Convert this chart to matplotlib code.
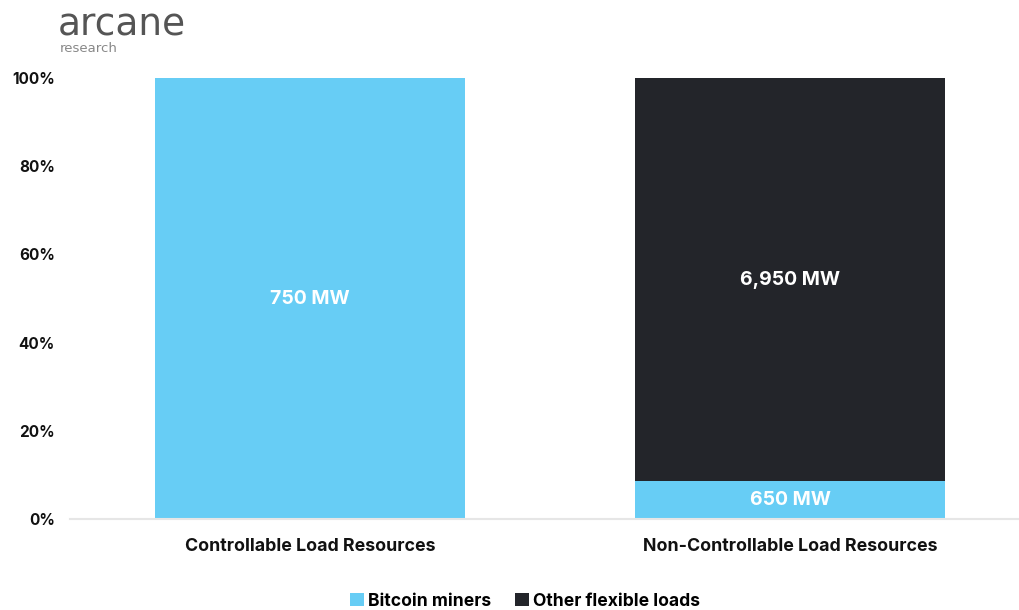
import matplotlib
matplotlib.use("Agg")
import matplotlib.pyplot as plt
import numpy as np
from matplotlib.patches import Patch

categories = ["Controllable Load Resources", "Non-Controllable Load Resources"]
bitcoin_mw = [750, 650]
other_mw = [0, 6950]
series_names = ["Bitcoin miners", "Other flexible loads"]
ytick_labels = ["0%", "20%", "40%", "60%", "80%", "100%"]

BLUE = "#67CDF5"
DARK = "#23252A"
FONT = ["Inter", "DejaVu Sans"]

plt.rcParams["font.family"] = FONT

fig = plt.figure(figsize=(10.19, 6.10), dpi=100)
ax = fig.add_axes([70/1019, 1-519/610, 949/1019, (519-78)/610])

x = np.arange(len(categories))
totals = np.array(bitcoin_mw) + np.array(other_mw)
btc_pct = np.array(bitcoin_mw) / totals * 100
oth_pct = np.array(other_mw) / totals * 100

width = 0.646
ax.bar(x, btc_pct, width, color=BLUE, linewidth=0)
ax.bar(x, oth_pct, width, bottom=btc_pct, color=DARK, linewidth=0)

for i in range(len(categories)):
    if bitcoin_mw[i] > 0:
        ax.text(x[i], btc_pct[i]/2, f"{bitcoin_mw[i]:,} MW", ha="center", va="center",
                color="white", fontsize=14, fontweight="bold")
    if other_mw[i] > 0:
        ax.text(x[i], btc_pct[i] + oth_pct[i]/2, f"{other_mw[i]:,} MW", ha="center", va="center",
                color="white", fontsize=14, fontweight="bold")

ax.set_xlim(-0.5, 1 + 229/480)
ax.set_ylim(0, 100)
ax.set_yticks([0, 20, 40, 60, 80, 100])
ax.set_yticklabels(ytick_labels, fontsize=11, fontweight="bold", color="#111111")
ax.set_xticks(x)
ax.set_xticklabels(categories, fontsize=12.8, fontweight="bold", color="#111111")
ax.tick_params(axis="both", length=0)
ax.tick_params(axis="y", pad=11)
ax.tick_params(axis="x", pad=14)
for s in ["top", "right", "left"]:
    ax.spines[s].set_visible(False)
ax.spines["bottom"].set_color("#E6E6E6")
ax.spines["bottom"].set_linewidth(1.5)

handles = [Patch(facecolor=BLUE, edgecolor="none"), Patch(facecolor=DARK, edgecolor="none")]
fig.legend(handles, series_names, loc="center", bbox_to_anchor=(525/1019, 1-601/610),
           ncol=2, frameon=False, prop={"weight": "bold", "size": 12.6},
           handlelength=0.8, handleheight=0.8, handletextpad=0.2, columnspacing=1.4)

fig.text(58/1019, 1-25/610, "arcane", fontsize=27, color="#555555", ha="left", va="center",
         fontfamily=["DejaVu Sans"])
fig.text(60/1019, 1-49/610, "research", fontsize=9.5, color="#888888", ha="left", va="center",
         fontfamily=["DejaVu Sans"])

fig.savefig("out.png", dpi=100, facecolor="white")
